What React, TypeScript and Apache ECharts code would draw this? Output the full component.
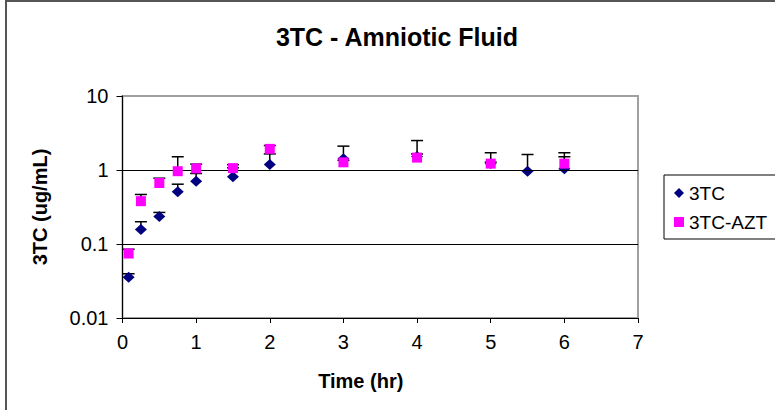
import React, { useEffect, useRef } from "react";
import * as echarts from "echarts";

const titleText = "3TC - Amniotic Fluid";
const xAxisName = "Time (hr)";
const yAxisName = "3TC (ug/mL)";
const seriesNames = ["3TC", "3TC-AZT"];

const times3TC = [0.083, 0.25, 0.5, 0.75, 1, 1.5, 2, 3, 4, 5, 5.5, 6];
const conc3TC = [0.0356, 0.157, 0.235, 0.507, 0.706, 0.81, 1.19, 1.42, 1.52, 1.22, 0.96, 1.04];
const upper3TC = [0.0396, 0.2, 0.267, 0.643, 0.897, 1.07, 1.65, 2.1, 1.65, 1.28, 1.62, 1.51];

const timesAZT = [0.083, 0.25, 0.5, 0.75, 1, 1.5, 2, 3, 4, 5, 6];
const concAZT = [0.0744, 0.379, 0.667, 0.963, 1.05, 1.06, 1.93, 1.27, 1.47, 1.22, 1.22];
const upperAZT = [0.085, 0.467, 0.775, 1.51, 1.2, 1.18, 2.14, 1.35, 2.5, 1.71, 1.71];

const yTickLabels = ["0.01", "0.1", "1", "10"];
const gridLines = [0.1, 1];

const FONT = "Liberation Sans, Arial, sans-serif";

function errorRender(params: any, api: any) {
  const x = api.value(0);
  const lo = api.value(1);
  const hi = api.value(2);
  const p0 = api.coord([x, lo]);
  const p1 = api.coord([x, hi]);
  const style = { stroke: "#000", lineWidth: 1.5 };
  return {
    type: "group",
    children: [
      { type: "line", shape: { x1: p0[0], y1: p0[1], x2: p1[0], y2: p1[1] }, style },
      { type: "line", shape: { x1: p1[0] - 6, y1: p1[1], x2: p1[0] + 6, y2: p1[1] }, style },
    ],
  };
}

export default function App() {
  const ref = useRef<HTMLDivElement>(null);
  useEffect(() => {
    if (!ref.current) return;
    const chart = echarts.init(ref.current, null, { renderer: "svg" });
    const err3TC = times3TC.map((t, i) => [t, conc3TC[i], upper3TC[i]]);
    const errAZT = timesAZT.map((t, i) => [t, concAZT[i], upperAZT[i]]);
    chart.setOption({
      animation: false,
      backgroundColor: "#fff",
      textStyle: { fontFamily: FONT },
      graphic: [
        {
          type: "rect",
          shape: { x: 6, y: 1, width: 900, height: 600 },
          style: { fill: "none", stroke: "#555", lineWidth: 2 },
          z: 0,
        },
        {
          type: "text",
          x: 397,
          y: 37,
          style: {
            text: titleText,
            font: `bold 25px ${FONT}`,
            fill: "#000",
            textAlign: "center",
            textVerticalAlign: "middle",
          },
        },
      ],
      grid: {
        left: 122.5,
        right: 137,
        top: 96,
        bottom: 92,
        show: true,
        borderColor: "#a0a0a0",
        borderWidth: 2,
        backgroundColor: "transparent",
      },
      legend: {
        orient: "vertical",
        left: 664,
        top: 175,
        data: seriesNames,
        borderColor: "#000",
        borderWidth: 1,
        padding: [8, 40, 7, 10],
        itemGap: 9,
        itemWidth: 10,
        itemHeight: 10,
        textStyle: { fontSize: 19, fontFamily: FONT, color: "#000", lineHeight: 20 },
      },
      xAxis: {
        type: "value",
        min: 0,
        max: 7,
        interval: 1,
        name: xAxisName,
        nameLocation: "middle",
        nameGap: 53,
        nameTextStyle: {
          fontSize: 20,
          fontWeight: "bold",
          color: "#000",
          fontFamily: FONT,
          padding: [0, 39, 0, 0],
          verticalAlign: "top",
        },
        axisLine: { show: true, lineStyle: { color: "#000", width: 1 } },
        axisTick: { show: true, length: 5, lineStyle: { color: "#000" } },
        axisLabel: { fontSize: 20, color: "#000", margin: 14, fontFamily: FONT },
        splitLine: { show: false },
      },
      yAxis: {
        type: "log",
        logBase: 10,
        min: 0.01,
        max: 10,
        name: yAxisName,
        nameLocation: "middle",
        nameGap: 73,
        nameTextStyle: { fontSize: 20, fontWeight: "bold", color: "#000", fontFamily: FONT },
        axisLine: { show: true, lineStyle: { color: "#000", width: 1 } },
        axisTick: { show: true, length: 6, lineStyle: { color: "#000" } },
        axisLabel: {
          fontSize: 20,
          color: "#000",
          margin: 14,
          fontFamily: FONT,
          formatter: (v: number) => {
            const idx = Math.round(Math.log10(v)) + 2;
            return yTickLabels[idx] ?? String(v);
          },
        },
        splitLine: { show: false },
        minorTick: { show: false },
      },
      series: [
        {
          type: "custom",
          name: "err3TC",
          renderItem: errorRender,
          encode: { x: 0, y: [1, 2] },
          data: err3TC,
          z: 2,
          silent: true,
          markLine: {
            silent: true,
            symbol: ["none", "none"],
            label: { show: false },
            lineStyle: { color: "#000", type: "solid", width: 1 },
            data: gridLines.map((v) => ({ yAxis: v })),
          },
        },
        {
          type: "scatter",
          name: seriesNames[0],
          data: times3TC.map((t, i) => [t, conc3TC[i]]),
          symbol: "diamond",
          symbolSize: [12, 11],
          itemStyle: { color: "#000080", opacity: 1 },
          z: 3,
        },
        {
          type: "custom",
          name: "errAZT",
          renderItem: errorRender,
          encode: { x: 0, y: [1, 2] },
          data: errAZT,
          z: 4,
          silent: true,
        },
        {
          type: "scatter",
          name: seriesNames[1],
          data: timesAZT.map((t, i) => [t, concAZT[i]]),
          symbol: "rect",
          symbolSize: 10,
          itemStyle: { color: "#FF00FF", opacity: 1 },
          z: 5,
        },
      ],
    });
    return () => chart.dispose();
  }, []);
  return (
    <div
      ref={ref}
      style={{ position: "fixed", left: 0, top: 0, width: 775, height: 410 }}
    />
  );
}
